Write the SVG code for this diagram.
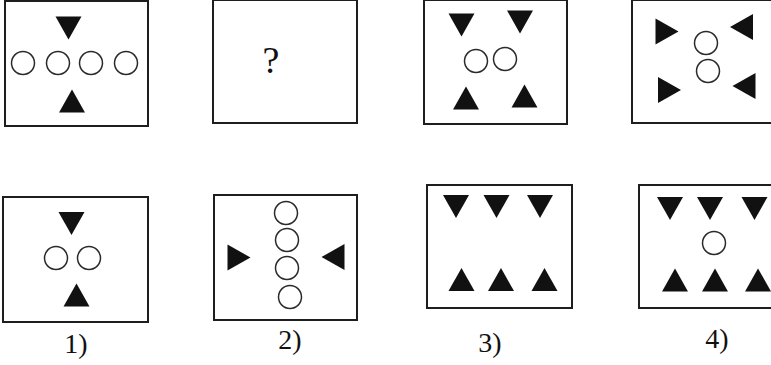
<svg xmlns="http://www.w3.org/2000/svg" xmlns:xlink="http://www.w3.org/1999/xlink" width="771" height="365" viewBox="0 0 771 365">
<style>
.box{fill:#fff;stroke:#1e1e1e;stroke-width:2}
.tri{fill:#111}
.c{fill:none;stroke:#2a2a2a;stroke-width:1.5}
.lbl{font-family:"Liberation Serif","Times New Roman",serif;font-size:28px;fill:#111;text-anchor:middle}
</style>
<defs>
<path id="td" class="tri" d="M-13,-11.5 L13,-11.5 L0,11.5Z"/>
<path id="tu" class="tri" d="M-13,11.5 L13,11.5 L0,-11.5Z"/>
<path id="tr" class="tri" d="M-11.5,-13 L11.5,0 L-11.5,13Z"/>
<path id="tl" class="tri" d="M11.5,-13 L-11.5,0 L11.5,13Z"/>
</defs>
<rect width="771" height="365" fill="#fff"/>
<g id="q1">
<rect class="box" x="5" y="1" width="143" height="125"/>
<use xlink:href="#td" x="68.5" y="28"/>
<use xlink:href="#tu" x="72" y="101"/>
<circle class="c" cx="23" cy="63" r="11.5"/>
<circle class="c" cx="58" cy="63" r="11.5"/>
<circle class="c" cx="91" cy="63" r="11.5"/>
<circle class="c" cx="126" cy="63" r="11.5"/>
</g>
<g id="q2">
<rect class="box" x="213" y="0" width="144" height="123"/>
<text class="lbl" x="271" y="73" style="font-size:38px">?</text>
</g>
<g id="q3">
<rect class="box" x="424" y="0" width="143" height="124"/>
<use xlink:href="#td" x="461.5" y="25"/>
<use xlink:href="#td" x="520" y="22"/>
<circle class="c" cx="476" cy="61" r="11.5"/>
<circle class="c" cx="505" cy="59" r="11.5"/>
<use xlink:href="#tu" x="466" y="98"/>
<use xlink:href="#tu" x="524.5" y="96"/>
</g>
<g id="q4">
<rect class="box" x="632" y="0" width="150" height="123"/>
<use xlink:href="#tr" x="667" y="31.5"/>
<use xlink:href="#tl" x="741.5" y="27"/>
<use xlink:href="#tr" x="669.5" y="90"/>
<use xlink:href="#tl" x="744" y="86"/>
<circle class="c" cx="706" cy="43" r="11.5"/>
<circle class="c" cx="708" cy="71" r="11.5"/>
</g>
<g id="a1">
<rect class="box" x="3" y="197" width="145" height="125"/>
<use xlink:href="#td" x="71.5" y="223.5"/>
<circle class="c" cx="56" cy="258" r="11.5"/>
<circle class="c" cx="89" cy="258" r="11.5"/>
<use xlink:href="#tu" x="76.5" y="295"/>
<text class="lbl" x="76" y="353">1)</text>
</g>
<g id="a2">
<rect class="box" x="214" y="195" width="143" height="125"/>
<circle class="c" cx="286" cy="213" r="11.5"/>
<circle class="c" cx="287" cy="240" r="11.5"/>
<circle class="c" cx="287" cy="268" r="11.5"/>
<circle class="c" cx="290" cy="297" r="11.5"/>
<use xlink:href="#tr" x="239" y="257.5"/>
<use xlink:href="#tl" x="333" y="257"/>
<text class="lbl" x="290" y="349">2)</text>
</g>
<g id="a3">
<rect class="box" x="427" y="185" width="145" height="123"/>
<use xlink:href="#td" x="456" y="206.5"/>
<use xlink:href="#td" x="496.5" y="206.5"/>
<use xlink:href="#td" x="540" y="206.5"/>
<use xlink:href="#tu" x="461.5" y="279.5"/>
<use xlink:href="#tu" x="501" y="279.5"/>
<use xlink:href="#tu" x="544.5" y="279.5"/>
<text class="lbl" x="490" y="352">3)</text>
</g>
<g id="a4">
<rect class="box" x="639" y="185" width="150" height="123"/>
<use xlink:href="#td" x="670" y="208.5"/>
<use xlink:href="#td" x="710" y="208.5"/>
<use xlink:href="#td" x="754.5" y="208.5"/>
<circle class="c" cx="714" cy="243" r="11.5"/>
<use xlink:href="#tu" x="675" y="280"/>
<use xlink:href="#tu" x="715" y="280"/>
<use xlink:href="#tu" x="758" y="280"/>
<text class="lbl" x="717" y="348">4)</text>
</g>
<g id="connectors"/>
</svg>
